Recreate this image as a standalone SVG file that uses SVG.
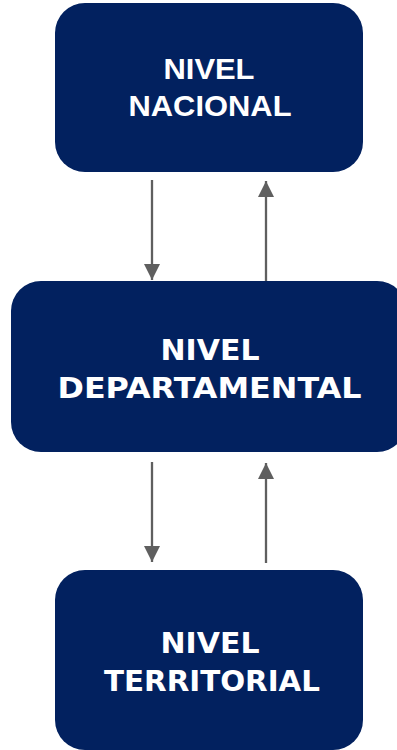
<svg xmlns="http://www.w3.org/2000/svg" width="397" height="750" viewBox="0 0 397 750">
<style>
.box{fill:#02215F}
.t1{font-family:"Liberation Sans",Arial,sans-serif;font-weight:bold;font-size:30px;fill:#ffffff;text-anchor:middle}
.t2{font-family:"DejaVu Sans",sans-serif;font-weight:bold;font-size:29px;fill:#ffffff;text-anchor:middle}
.conn{stroke:#5f5f5f;stroke-width:2.3;fill:none}
</style>
<defs>
<marker id="ah" viewBox="0 0 16 16" refX="16" refY="8" markerWidth="16" markerHeight="16" markerUnits="userSpaceOnUse" orient="auto">
<path d="M0,0 L16,8 L0,16 Z" fill="#5f5f5f"/>
</marker>
</defs>
<rect width="397" height="750" fill="#ffffff"/>
<g id="connectors">
<line class="conn" x1="152" y1="180" x2="152" y2="280" marker-end="url(#ah)"/>
<line class="conn" x1="266" y1="281" x2="266" y2="181" marker-end="url(#ah)"/>
<line class="conn" x1="152" y1="462" x2="152" y2="562" marker-end="url(#ah)"/>
<line class="conn" x1="266" y1="563" x2="266" y2="463" marker-end="url(#ah)"/>
</g>
<g id="nivel-nacional">
<rect class="box" x="55" y="3" width="308" height="169" rx="30" ry="30"/>
<text class="t1" x="209" y="78.5" textLength="91" lengthAdjust="spacingAndGlyphs">NIVEL</text>
<text class="t1" x="210" y="116" textLength="163" lengthAdjust="spacingAndGlyphs">NACIONAL</text>
</g>
<g id="nivel-departamental">
<rect class="box" x="11" y="281" width="396" height="171" rx="30" ry="30"/>
<text class="t2" x="210" y="359.5" textLength="99" lengthAdjust="spacingAndGlyphs">NIVEL</text>
<text class="t2" x="209.5" y="398.3" textLength="304" lengthAdjust="spacingAndGlyphs">DEPARTAMENTAL</text>
</g>
<g id="nivel-territorial">
<rect class="box" x="55" y="570" width="308" height="180" rx="30" ry="30"/>
<text class="t2" x="210" y="652.7" textLength="99" lengthAdjust="spacingAndGlyphs">NIVEL</text>
<text class="t2" x="212" y="691" textLength="216" lengthAdjust="spacingAndGlyphs">TERRITORIAL</text>
</g>
</svg>
